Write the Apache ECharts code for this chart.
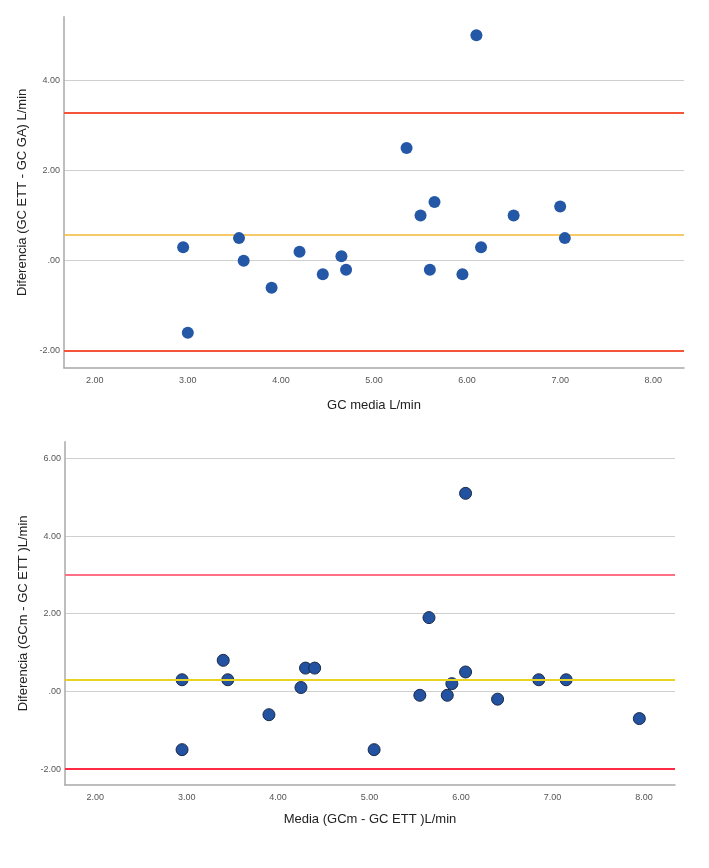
<!DOCTYPE html>
<html>
<head>
<meta charset="utf-8">
<script src="https://cdn.jsdelivr.net/npm/echarts@6/dist/echarts.min.js"></script>
<style>html,body{margin:0;padding:0;background:#fff}#c{width:709px;height:868px}</style>
</head>
<body>
<div id="c"></div>
<script>
// ---- Data: top chart (GC ETT vs GC GA) ----
const topX = [2.95, 3.0, 3.55, 3.6, 3.9, 4.2, 4.45, 4.65, 4.7, 5.35, 5.5, 5.6, 5.65, 5.95, 6.1, 6.15, 6.5, 7.0, 7.05];
const topY = [0.3, -1.6, 0.5, 0.0, -0.6, 0.2, -0.3, 0.1, -0.2, 2.5, 1.0, -0.2, 1.3, -0.3, 5.0, 0.3, 1.0, 1.2, 0.5];
const topLines = [3.27, 0.57, -2.0];          // upper LoA, mean, lower LoA
const topXTicks = [2, 3, 4, 5, 6, 7, 8];
const topYTicks = [-2, 0, 2, 4];

// ---- Data: bottom chart (GCm vs GC ETT) ----
const botX = [2.95, 2.95, 3.4, 3.45, 3.9, 4.25, 4.3, 4.4, 5.05, 5.55, 5.65, 5.85, 5.9, 6.05, 6.05, 6.4, 6.85, 7.15, 7.95];
const botY = [0.3, -1.5, 0.8, 0.3, -0.6, 0.1, 0.6, 0.6, -1.5, -0.1, 1.9, -0.1, 0.2, 5.1, 0.5, -0.2, 0.3, 0.3, -0.7];
const botLines = [3.0, 0.31, -2.0];
const botXTicks = [2, 3, 4, 5, 6, 7, 8];
const botYTicks = [-2, 0, 2, 4, 6];

const FONT = '"Liberation Sans", Arial, sans-serif';
const fmt = v => (v < 0 ? '-' : '') + (Math.abs(v) < 1e-9 ? '' : Math.abs(v).toFixed(0)) + '.00';

function xAx(gi, ticks, name, gap, min, max) {
  return {
    type: 'value', gridIndex: gi, min: min, max: max,
    name: name, nameLocation: 'middle', nameGap: gap,
    nameTextStyle: { fontFamily: FONT, fontSize: 13, color: '#222' },
    axisLine: { show: true, onZero: false, lineStyle: { color: '#a8a8a8', width: 1.5 } },
    axisTick: { show: false, customValues: ticks },
    axisLabel: { customValues: ticks, formatter: fmt, fontFamily: FONT, fontSize: 9, color: '#555', margin: 8 },
    splitLine: { show: false }
  };
}
function yAx(gi, ticks, name, min, max) {
  return {
    type: 'value', gridIndex: gi, min: min, max: max,
    name: name, nameLocation: 'middle', nameGap: 35,
    nameTextStyle: { fontFamily: FONT, fontSize: 13, color: '#222' },
    axisLine: { show: true, onZero: false, lineStyle: { color: '#a8a8a8', width: 1.5 } },
    axisTick: { show: false, customValues: ticks },
    axisLabel: { customValues: ticks, formatter: fmt, fontFamily: FONT, fontSize: 9, color: '#555', margin: 4 },
    splitLine: { show: true, lineStyle: { color: '#cfcfcf', width: 1 } }
  };
}

const chart = echarts.init(document.getElementById('c'), null, { renderer: 'canvas' });
chart.setOption({
  animation: false,
  backgroundColor: '#fff',
  grid: [
    { left: 64, top: 16.7, width: 620, height: 351.3 },
    { left: 65, top: 441.7, width: 610, height: 343.3 }
  ],
  xAxis: [
    xAx(0, topXTicks, 'GC media L/min', 31, 1.67, 8.33),
    xAx(1, botXTicks, 'Media (GCm - GC ETT )L/min', 28, 1.67, 8.34)
  ],
  yAxis: [
    yAx(0, topYTicks, 'Diferencia (GC ETT - GC GA) L/min', -2.38, 5.41),
    yAx(1, botYTicks, 'Diferencia (GCm - GC ETT )L/min', -2.41, 6.43)
  ],
  series: [
    {
      type: 'scatter', xAxisIndex: 0, yAxisIndex: 0, z: 3,
      symbolSize: 12,
      itemStyle: { color: '#2457a6', opacity: 1 },
      data: topX.map((x, i) => [x, topY[i]]),
      markLine: {
        silent: true, symbol: 'none', z: 1, animation: false,
        label: { show: false },
        data: [
          { yAxis: topLines[0], lineStyle: { color: '#f4553a', width: 2, type: 'solid' } },
          { yAxis: topLines[1], lineStyle: { color: '#f5b932', width: 1.6, type: 'solid' } },
          { yAxis: topLines[2], lineStyle: { color: '#f4553a', width: 2, type: 'solid' } }
        ]
      }
    },
    {
      type: 'scatter', xAxisIndex: 1, yAxisIndex: 1, z: 2,
      symbolSize: 12,
      itemStyle: { color: '#2352a0', borderColor: '#1a2a48', borderWidth: 1, opacity: 1 },
      data: botX.map((x, i) => [x, botY[i]]),
      markLine: {
        silent: true, symbol: 'none', z: 5, animation: false,
        label: { show: false },
        data: [
          { yAxis: botLines[0], lineStyle: { color: '#ff6f86', width: 2, type: 'solid' } },
          { yAxis: botLines[1], lineStyle: { color: '#e8d420', width: 2, type: 'solid' } },
          { yAxis: botLines[2], lineStyle: { color: '#ff2b44', width: 2, type: 'solid' } }
        ]
      }
    }
  ]
});
</script>
</body>
</html>
